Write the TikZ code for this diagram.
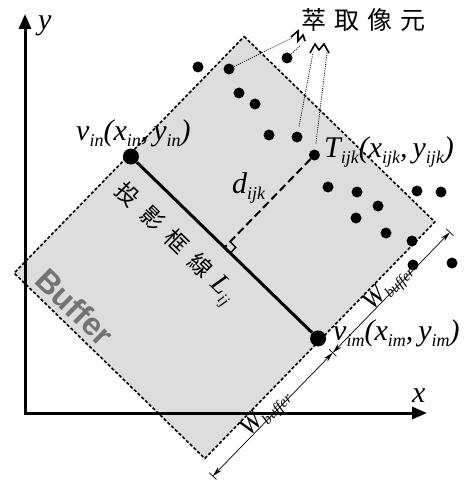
\documentclass[tikz,border=0pt]{standalone}
\usepackage{fontspec}
\setmainfont{Liberation Serif}
\newfontfamily\cjk{Noto Sans CJK TC}
\newfontfamily\sansb{Liberation Sans}
\usetikzlibrary{arrows.meta}
\definecolor{boxgray}{RGB}{221,221,221}
\definecolor{buftext}{RGB}{115,115,115}
\newcommand{\sbs}[3]{\raisebox{-#1}{\fontsize{#2}{#2}\selectfont\itshape #3}}
\newcommand{\sbm}[1]{\sbs{6pt}{18}{#1}}
\begin{document}
\begin{tikzpicture}[x=1pt,y=-1pt,
  axis/.style={line width=3pt,{Triangle[length=15pt,width=12pt]}-{Triangle[length=15pt,width=12pt]}},
  bufferbox/.style={draw=black,fill=boxgray,line width=1.6pt,dash pattern=on 3.2pt off 2pt},
  mainline/.style={line width=3pt},
  dline/.style={line width=2pt,dash pattern=on 8pt off 4pt},
  dot/.style={circle,fill=black,inner sep=0pt,minimum size=11pt},
  bigdot/.style={circle,fill=black,inner sep=0pt,minimum size=16pt},
  callout/.style={line width=0.8pt,dash pattern=on 1pt off 1.2pt},
  zig/.style={line width=1.6pt,line join=miter},
  dimline/.style={line width=0.7pt,{Stealth[length=10pt,width=5pt]}-{Stealth[length=10pt,width=5pt]}},
  dimtick/.style={line width=0.7pt},
  lbl/.style={inner sep=0pt,font=\fontsize{30}{30}\selectfont\itshape},
  wlbl/.style={inner sep=0pt,rotate=45.8,font=\fontsize{26}{26}\selectfont\itshape},
]
\useasboundingbox (0,0) rectangle (471,484);

% rotated frame of the buffer
\begin{scope}[shift={(224.5,247.5)},rotate=-44.2]
  \draw[bufferbox] (-133,-165) -- (133,-165) -- (133,165) -- (-133,165) -- cycle;
  \coordinate (foot) at (0,0);
  \draw[line width=1.4pt] (0,-8) -- (8,-8) -- (8,0);
  \node[bigdot] (vin) at (-130.5,0) {};
  \node[bigdot] (vim) at (130.5,0) {};
  \node[dot] (T) at (0,-129) {};
  \coordinate (dm) at (151,0);
  \coordinate (d1) at (151,-168);
  \coordinate (d2) at (151,172);
  \draw[dimline] (dm) -- (d1);
  \draw[dimline] (dm) -- (d2);
  \draw[dimtick] (146,0) -- (156,0);
  \draw[dimtick] (146,-168) -- (156,-168);
  \draw[dimtick] (146,172) -- (156,172);
  \node[wlbl] (w1) at (146,-86) {W\sbs{4pt}{15}{buffer}};
  \node[wlbl] (w2) at (146,90) {W\sbs{4pt}{15}{buffer}};
\end{scope}

% axes
\coordinate (O) at (25,413);
\coordinate (ytip) at (25,14);
\coordinate (xtip) at (427,413);
\draw[axis] (ytip) -- (O) -- (xtip);

% main line and distance
\draw[mainline] (vin) -- (vim);
\draw[dline] (T) -- (foot);

% pixels
\node[dot] (p1) at (198,67) {};
\node[dot] (p2) at (229,69) {};
\node[dot] (p3) at (287,58) {};
\node[dot] (p4) at (239,93) {};
\node[dot] (p5) at (255,104) {};
\node[dot] (p6) at (269,135) {};
\node[dot] (p7) at (297,137) {};
\node[dot] (p8) at (328,187) {};
\node[dot] (p9) at (357,192) {};
\node[dot] (p10) at (378,206) {};
\node[dot] (p11) at (356,218) {};
\node[dot] (p12) at (386,233) {};
\node[dot] (p13) at (412,241) {};
\node[dot] (p14) at (417,191) {};
\node[dot] (p15) at (441,192) {};
\node[dot] (p16) at (413,265) {};
\node[dot] (p17) at (452,263) {};

% callouts
\coordinate (z1) at (292,38);
\coordinate (z1b) at (301,45);
\coordinate (z2a) at (313,53);
\coordinate (z2b) at (327,53);
\draw[callout] (p2) -- (z1);
\draw[callout] (p3) -- (z1b);
\draw[callout,shorten <=5pt] (p7) -- (z2a);
\draw[callout,shorten <=6pt] (T) -- (z2b);
\draw[zig] (291,37) -- (298,31) -- (298,41) -- (303,35) -- (305,41);
\draw[zig] (310,53) -- (315,44) -- (319,50) -- (324,44) -- (329,53);

% labels
\node[lbl,anchor=base west] (ylab) at (38,30) {y};
\node[lbl,anchor=base west] (xlab) at (412,402) {x};
\node[lbl,anchor=base west] (vinlab) at (76,140) {v\sbm{in}(x\sbm{in},\,y\sbm{in})};
\node[lbl,anchor=base west] (Tlab) at (324,157) {T\sbm{ijk}(x\sbm{ijk},\,y\sbm{ijk})};
\node[lbl,anchor=base west] (vimlab) at (333,340) {v\sbm{im}(x\sbm{im},\,y\sbm{im})};
\node[lbl,anchor=base west] (dlab) at (232,193) {d\sbm{ijk}};
\node[inner sep=0pt,anchor=west,font=\cjk\fontsize{25}{25}\selectfont] (title) at (301,20) {萃\hspace{8pt}取\hspace{8pt}像\hspace{8pt}元};
\node[inner sep=0pt,rotate=-44.2,font=\cjk\fontsize{23}{23}\selectfont] (linelab) at (174,244) {投\hspace{11pt}影\hspace{11pt}框\hspace{11pt}線\hspace{9pt}{\rmfamily\itshape\fontsize{28}{28}\selectfont L\sbs{6pt}{16}{ij}}};
\node[inner sep=0pt,rotate=-44.2,text=buftext,font=\sansb\bfseries\fontsize{32}{32}\selectfont] (buf) at (75,307) {Buffer};
\end{tikzpicture}
\end{document}
